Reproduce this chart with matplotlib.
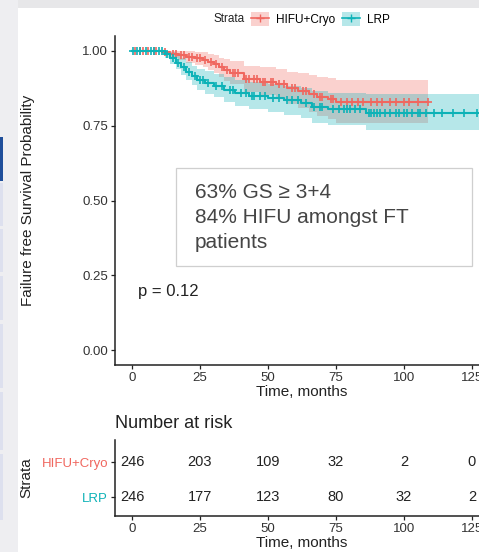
"""Kaplan-Meier style failure-free survival, HIFU+Cryo vs LRP, with risk table."""

import matplotlib.pyplot as plt
import numpy as np
from matplotlib.lines import Line2D
from matplotlib.patches import Patch, Rectangle

plt.rcParams["font.family"] = ["Liberation Sans", "DejaVu Sans"]

# ---- data ----
GROUPS = ["HIFU+Cryo", "LRP"]

hifu_t = [0, 11, 14, 17, 20, 23, 26, 28, 30, 32, 34, 36, 41, 47, 53, 57, 61, 65, 68, 72, 75, 109]
hifu_s = [1.0, 0.995, 0.99, 0.985, 0.98, 0.975, 0.97, 0.962, 0.955, 0.945, 0.935, 0.925,
          0.905, 0.897, 0.888, 0.875, 0.865, 0.855, 0.845, 0.838, 0.828, 0.828]
hifu_hi = [1.0, 1.0, 1.0, 1.0, 1.0, 0.998, 0.995, 0.99, 0.985, 0.978, 0.972, 0.965,
           0.95, 0.945, 0.938, 0.93, 0.925, 0.918, 0.912, 0.908, 0.903, 0.903]
hifu_lo = [1.0, 0.985, 0.978, 0.97, 0.96, 0.952, 0.945, 0.935, 0.925, 0.912, 0.9, 0.888,
           0.862, 0.852, 0.84, 0.822, 0.81, 0.795, 0.782, 0.772, 0.76, 0.76]
hifu_cens = [1, 3, 4, 6, 8, 9, 12, 15, 16, 18, 19, 21, 22, 24, 25, 27, 29, 31, 33, 35, 37,
             38, 39, 42, 43, 45, 46, 48, 49, 51, 52, 54, 56, 59, 60, 63, 64, 67, 69, 70,
             73, 74, 77, 79, 81, 83, 85, 88, 90, 92, 95, 97, 100, 102, 105, 109]

lrp_t = [0, 12, 14, 16, 18, 20, 22, 24, 27, 30, 34, 38, 43, 50, 56, 62, 66, 72, 86, 128]
lrp_s = [1.0, 0.99, 0.975, 0.96, 0.945, 0.93, 0.915, 0.903, 0.893, 0.883, 0.87, 0.858,
         0.85, 0.843, 0.835, 0.825, 0.812, 0.805, 0.793, 0.793]
lrp_hi = [1.0, 1.0, 0.995, 0.985, 0.975, 0.962, 0.95, 0.94, 0.932, 0.923, 0.912, 0.902,
          0.895, 0.89, 0.883, 0.875, 0.866, 0.861, 0.856, 0.856]
lrp_lo = [1.0, 0.978, 0.958, 0.94, 0.92, 0.903, 0.885, 0.87, 0.857, 0.845, 0.83, 0.815,
          0.806, 0.797, 0.787, 0.775, 0.76, 0.752, 0.737, 0.737]
lrp_cens = [0.5, 2, 3, 5, 7, 8, 10, 11, 13, 15, 17, 19, 21, 23, 25, 26, 28, 31, 33, 36, 37,
            40, 42, 44, 45, 47, 49, 52, 54, 57, 59, 61, 64, 67, 69, 70, 74, 76, 78, 79, 80,
            82, 84, 87, 88, 89, 90, 91, 93, 95, 97, 98, 100, 101, 103, 105, 106, 108, 111,
            114, 118, 122, 127]

risk_times = [0, 25, 50, 75, 100, 125]
risk_hifu = [246, 203, 109, 32, 2, 0]
risk_lrp = [246, 177, 123, 80, 32, 2]

p_text = "p = 0.12"
note_lines = ["63% GS \u2265 3+4", "84% HIFU amongst FT", "patients"]

RED = "#F0675F"
TEAL = "#0DB2B7"
INK = "#222222"
TICK = "#333333"

W, H = 479, 552
fig = plt.figure(figsize=(W / 100, H / 100), dpi=100)


def fx(px):
    return px / W


def fy(py):
    return 1 - py / H


# screenshot frame (grey strips of the slide viewer)
fig.patches.append(Rectangle((0, fy(8)), 1, 1, transform=fig.transFigure,
                             facecolor="#e7e7e9", edgecolor="none", zorder=-5))
fig.patches.append(Rectangle((0, 0), fx(18), 1, transform=fig.transFigure,
                             facecolor="#eeeef1", edgecolor="none", zorder=-5))
fig.patches.append(Rectangle((0, fy(181)), fx(2.5), fy(137) - fy(181),
                             transform=fig.transFigure, facecolor="#1f4e9a",
                             edgecolor="none", zorder=-4))
for y0, y1 in [(183, 226), (229, 272), (276, 320), (324, 388), (392, 450), (454, 520)]:
    fig.patches.append(Rectangle((0, fy(y1)), fx(3), fy(y0) - fy(y1),
                                 transform=fig.transFigure, facecolor="#dde0ee",
                                 edgecolor="none", zorder=-4))

# ---- main survival panel ----
ax = fig.add_axes([fx(115), fy(365), fx(489) - fx(115), fy(36) - fy(365)])


def draw_group(t, s, lo, hi, cens, color):
    ax.fill_between(t, lo, hi, step="post", color=color, alpha=0.3, lw=0)
    ax.step(t, s, where="post", color=color, lw=1.5)
    idx = np.searchsorted(t, cens, side="right") - 1
    ax.plot(cens, np.asarray(s)[idx], ls="none", marker="+", ms=6, mew=1.2, color=color)


draw_group(hifu_t, hifu_s, hifu_lo, hifu_hi, hifu_cens, RED)
draw_group(lrp_t, lrp_s, lrp_lo, lrp_hi, lrp_cens, TEAL)

ax.set_xlim(-6.25, 131.25)
ax.set_ylim(-0.05, 1.05)
ax.set_xticks(risk_times)
ax.set_yticks([0, 0.25, 0.5, 0.75, 1.0])
ax.set_yticklabels(["0.00", "0.25", "0.50", "0.75", "1.00"])
for side in ["top", "right"]:
    ax.spines[side].set_visible(False)
for side in ["left", "bottom"]:
    ax.spines[side].set_linewidth(1.1)
    ax.spines[side].set_color(INK)
ax.tick_params(length=3, width=0.9, color=INK, labelsize=9.5, labelcolor=TICK, pad=2)
ax.set_xlabel("Time, months", fontsize=11, color=INK, labelpad=1)
ax.set_ylabel("Failure free Survival Probability", fontsize=11, color=INK)
ax.yaxis.set_label_coords((35 - 115) / 374, 0.5)

ax.text(2.2, 0.197, p_text, fontsize=12, color=INK, va="center", ha="left")

# annotation box
ax.add_patch(Rectangle((0.163, 0.301), 0.792, 0.298, transform=ax.transAxes,
                       facecolor="white", edgecolor="#cfcfcf", lw=0.9, zorder=5))
for i, line in enumerate(note_lines):
    ax.text(0.214, 0.523 - i * 0.076, line, transform=ax.transAxes, fontsize=15,
            color="#454545", va="center", ha="left", zorder=6)

# legend on top
fig.text(fx(213), fy(19), "Strata", fontsize=8.5, color=INK, va="center", ha="left")
handles = [
    (Patch(facecolor=c, alpha=0.3, edgecolor="none"),
     Line2D([], [], color=c, lw=1.2, marker="+", ms=6, mew=1.0))
    for c in (RED, TEAL)
]
fig.legend(handles, GROUPS, loc="center left", bbox_to_anchor=(fx(251), fy(19)),
           ncol=2, frameon=False, fontsize=8.5, borderaxespad=0, borderpad=0,
           handlelength=1.5, handleheight=1.4, handletextpad=0.6, columnspacing=0.6)

# ---- number at risk table ----
axr = fig.add_axes([fx(115), fy(516), fx(489) - fx(115), fy(440) - fy(516)])
rows = [2, 1]
for y, counts in zip(rows, [risk_hifu, risk_lrp]):
    for t, n in zip(risk_times, counts):
        axr.text(t, y, str(n), fontsize=10.5, color=INK, ha="center", va="center")
axr.set_xlim(-6.25, 131.25)
axr.set_ylim(0.457, 2.629)
axr.set_xticks(risk_times)
axr.set_yticks(rows)
axr.set_yticklabels(GROUPS)
for lab, c in zip(axr.get_yticklabels(), (RED, TEAL)):
    lab.set_color(c)
    lab.set_fontsize(10)
for side in ["top", "right"]:
    axr.spines[side].set_visible(False)
for side in ["left", "bottom"]:
    axr.spines[side].set_linewidth(1.1)
    axr.spines[side].set_color(INK)
axr.tick_params(length=3, width=0.9, color=INK, labelsize=9.5, pad=2)
axr.tick_params(axis="x", labelcolor=TICK)
axr.set_xlabel("Time, months", fontsize=11, color=INK, labelpad=1)
axr.set_ylabel("Strata", fontsize=11, color=INK)
axr.yaxis.set_label_coords((33 - 115) / 374, 0.5)
axr.text(0, (516 - 424) / 76, "Number at risk", transform=axr.transAxes,
         fontsize=13, color=INK, ha="left", va="center")

fig.savefig("out.png", dpi=100)
